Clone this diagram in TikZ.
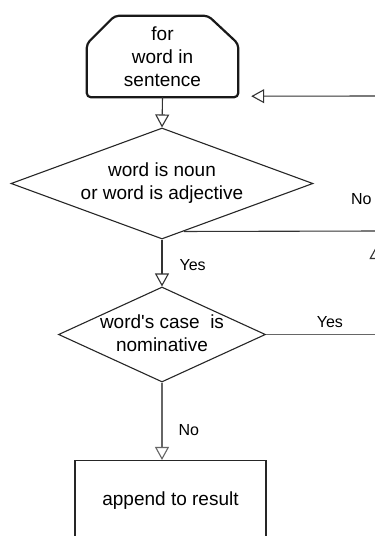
\documentclass[tikz,border=0pt]{standalone}
\usepackage{fontspec}
\newfontfamily\arial{Liberation Sans}
\usetikzlibrary{shapes.geometric,arrows.meta,calc}
\begin{document}
\begin{tikzpicture}[x=1pt,y=-1pt,
  every node/.style={font=\arial\fontsize{19}{23}\selectfont, align=center, inner sep=0pt},
  edgelabel/.style={font=\arial\fontsize{16}{19}\selectfont},
  decision/.style={diamond, draw=black!85, line width=1.1pt},
  procbox/.style={rectangle, draw=black!85, line width=1.1pt},
  flow/.style={draw=black!80, line width=1.1pt},
  softflow/.style={draw=black!60, line width=1.1pt},
  openhead/.style={-{Triangle[open,length=13pt,width=14pt]}},
]
\useasboundingbox (0,0) rectangle (375,536);
\fill[white] (0,0) rectangle (375,536);
\clip (0,0) rectangle (375,536);

% loop header: chamfered top, rounded bottom
\node[minimum width=151pt, minimum height=81pt] (loop) at (162.5,56.5) {for\\word in\\sentence};
\draw[line width=2.2pt, black!90, rounded corners=4pt]
  ($(loop.north west)+(0,28)$) -- ($(loop.north west)+(28,0)$)
  -- ($(loop.north east)+(-30,0)$) -- ($(loop.north east)+(0,28)$)
  -- (loop.south east) -- (loop.south west) -- cycle;

% decisions
\node[decision, aspect=2.72, minimum width=302pt, minimum height=111pt] (d1) at (162,183.5)
  {word is noun\\or word is adjective};
\node[decision, minimum width=207pt, minimum height=95pt] (d2) at (162,334.5) {};
\node (d2text) at ($(d2.center)+(0,-1.5)$) {word{\char"0027}s case\ \ is\\nominative};

% action
\node[procbox, minimum width=191pt, minimum height=80pt] (app) at (170.5,500.5) {append to result};

% free ends of the connectors
\coordinate (backin) at (380,96);
\coordinate (noexit) at (380,231);
\coordinate (yesexit) at (380,334.5);
\coordinate (upfrom) at (376.5,275);
\coordinate (uptip) at (376.5,246);
\coordinate (d1exit) at ($(d1.south)!0.144!(d1.east)$);

% connectors
\draw[flow, openhead] (loop.south) -- (d1.north);
\draw[flow, openhead] (backin) -- ($(loop.south east)+(13,-1)$);
\draw[flow, openhead] (d1.south) -- (d2.north)
  node[edgelabel, pos=0.54, anchor=west, xshift=17pt] {Yes};
\draw[flow] (d1exit) -- (noexit)
  node[edgelabel, pos=0.905, above=26pt] {No};
\draw[flow, openhead] (upfrom) -- (uptip);
\draw[softflow] (d2.east) -- (yesexit)
  node[edgelabel, pos=0.56, above=6pt] {Yes};
\draw[softflow, openhead] (d2.south) -- (d2.south |- app.north)
  node[edgelabel, pos=0.62, anchor=west, xshift=16pt] {No};
\end{tikzpicture}
\end{document}
